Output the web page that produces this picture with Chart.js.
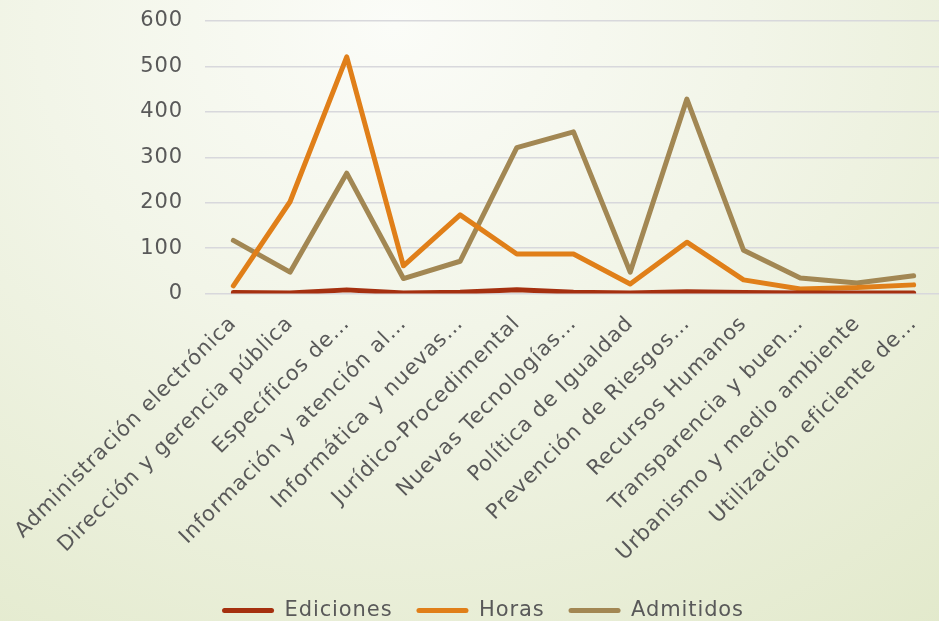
<!DOCTYPE html>
<html>
<head>
<meta charset="utf-8">
<script src="https://cdn.jsdelivr.net/npm/chart.js@4.4.0/dist/chart.umd.min.js"></script>
<style>
  html, body { margin: 0; padding: 0; width: 939px; height: 621px; overflow: hidden; }
  body { background: radial-gradient(ellipse 95% 125% at 42% 4%, #FBFCF8 0%, #F2F5E8 40%, #E2E9CB 100%); }
  #wrap { position: absolute; left: 0; top: 0; width: 950px; height: 621px; }
</style>
</head>
<body>
<div id="wrap"><canvas id="c"></canvas></div>
<script>
const categories = [
  "Administración electrónica",
  "Dirección y gerencia pública",
  "Específicos de…",
  "Información y atención al…",
  "Informática y nuevas…",
  "Jurídico-Procedimental",
  "Nuevas Tecnologías…",
  "Política de Igualdad",
  "Prevención de Riesgos…",
  "Recursos Humanos",
  "Transparencia y buen…",
  "Urbanismo y medio ambiente",
  "Utilización eficiente de…"
];
const ediciones = [2, 1, 8, 1, 3, 8, 3, 1, 4, 2, 1, 1, 1];
const horas     = [17, 202, 521, 61, 173, 87, 87, 21, 113, 30, 10, 13, 19];
const admitidos = [117, 47, 265, 33, 71, 321, 356, 47, 428, 95, 34, 23, 39];
const yTicks = [0, 100, 200, 300, 400, 500, 600];

const FONT = "'DejaVu Sans', sans-serif";
const TXT = '#595959';
const SPACING = '0.9px';

const spacingPlugin = {
  id: 'spacing',
  beforeInit(chart) { chart.ctx.letterSpacing = SPACING; },
  beforeLayout(chart) { chart.ctx.letterSpacing = SPACING; },
  afterLayout(chart) { if (chart.legend) { chart.legend.left += 12; chart.legend.right += 12; } },
  beforeDraw(chart) { chart.ctx.letterSpacing = SPACING; }
};

new Chart(document.getElementById('c'), {
  type: 'line',
  plugins: [spacingPlugin],
  data: {
    labels: categories,
    datasets: [
      { label: 'Ediciones', data: ediciones, borderColor: '#A5300F', backgroundColor: '#A5300F' },
      { label: 'Horas', data: horas, borderColor: '#E07F19', backgroundColor: '#E07F19' },
      { label: 'Admitidos', data: admitidos, borderColor: '#A28753', backgroundColor: '#A28753' }
    ].map(d => Object.assign(d, { borderWidth: 5, pointRadius: 0, tension: 0, borderCapStyle: 'round', borderJoinStyle: 'round' }))
  },
  options: {
    responsive: true,
    maintainAspectRatio: false,
    animation: false,
    layout: { padding: { left: 0, right: 8, top: 0, bottom: -10 } },
    plugins: {
      legend: {
        position: 'bottom',
        labels: {
          color: TXT,
          font: { family: FONT, size: 21 },
          boxWidth: 52,
          boxHeight: 5,
          padding: 24,
          generateLabels(chart) {
            return chart.data.datasets.map((ds, i) => ({
              text: ds.label, fillStyle: ds.borderColor, strokeStyle: ds.borderColor,
              lineWidth: 0, datasetIndex: i, fontColor: TXT, borderRadius: 2.5
            }));
          }
        }
      },
      tooltip: { enabled: false }
    },
    scales: {
      x: {
        offset: true,
        grid: { display: false },
        border: { display: false },
        ticks: { color: TXT, font: { family: FONT, size: 21 }, minRotation: 45, maxRotation: 45, autoSkip: false, padding: 10 }
      },
      y: {
        min: 0, max: 600,
        afterBuildTicks(axis) { axis.ticks = yTicks.map(v => ({ value: v })); },
        afterFit(scale) { scale.width = 205; scale.paddingTop = 21; scale.paddingBottom = 12; },
        grid: { color: '#D8D8DC', lineWidth: 1.5, drawTicks: false },
        border: { display: false },
        ticks: { color: TXT, font: { family: FONT, size: 21 }, padding: 22 }
      }
    }
  }
});
</script>
</body>
</html>
